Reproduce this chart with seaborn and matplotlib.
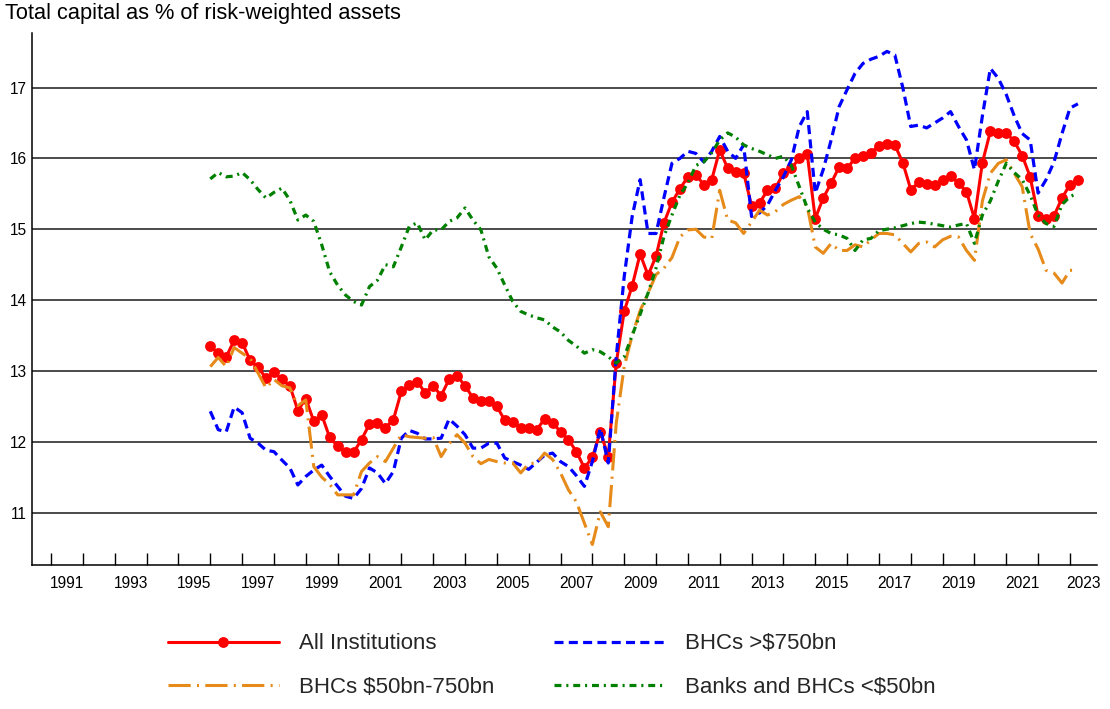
import numpy as np
import pandas as pd
import matplotlib
matplotlib.use("Agg")
import matplotlib.pyplot as plt
import seaborn as sns

# ---------------- data (quarterly, 1995Q4 - 2023Q1) ----------------
quarters = pd.period_range("1995Q4", "2023Q1", freq="Q")

all_institutions = [
    13.35, 13.25, 13.20, 13.43, 13.40, 13.15, 13.05, 12.90, 12.98, 12.88,
    12.79, 12.44, 12.61, 12.29, 12.38, 12.06, 11.94, 11.85, 11.85, 12.03,
    12.25, 12.27, 12.20, 12.31, 12.71, 12.80, 12.85, 12.69, 12.79, 12.65,
    12.88, 12.93, 12.79, 12.62, 12.57, 12.57, 12.50, 12.30, 12.28, 12.19,
    12.19, 12.17, 12.32, 12.27, 12.14, 12.03, 11.86, 11.63, 11.78, 12.14,
    11.79, 13.11,
    13.84, 14.20, 14.65, 14.35, 14.62, 15.09, 15.38, 15.57, 15.74, 15.77,
    15.63, 15.70, 16.12, 15.86, 15.81, 15.80, 15.33, 15.37, 15.55, 15.58,
    15.79, 15.86, 16.00, 16.06, 15.15, 15.44, 15.65, 15.88, 15.86, 16.00,
    16.03, 16.08, 16.18, 16.21, 16.19, 15.94, 15.56, 15.66, 15.64, 15.63,
    15.70, 15.75, 15.65, 15.53, 15.15, 15.94, 16.38, 16.36, 16.36, 16.24,
    16.04, 15.74, 15.19, 15.14, 15.19, 15.44, 15.63, 15.69,
]

bhc_large = [
    12.43, 12.17, 12.14, 12.49, 12.41, 12.05, 11.98, 11.88, 11.86, 11.74,
    11.63, 11.39, 11.51, 11.60, 11.67, 11.51, 11.37, 11.23, 11.20, 11.34,
    11.63, 11.56, 11.41, 11.58, 12.05, 12.16, 12.12, 12.04, 12.04, 12.05,
    12.32, 12.22, 12.10, 11.91, 11.91, 11.98, 11.98, 11.77, 11.72, 11.67,
    11.61, 11.71, 11.81, 11.84, 11.72, 11.65, 11.52, 11.37, 11.72, 12.19,
    11.70, 13.20,
    14.33, 15.18, 15.70, 14.94, 14.94, 15.45, 15.93, 16.00, 16.10, 16.07,
    15.95, 16.10, 16.31, 16.10, 16.00, 16.19, 15.18, 15.23, 15.34, 15.55,
    15.74, 15.98, 16.45, 16.66, 15.51, 15.84, 16.26, 16.73, 16.97, 17.20,
    17.34, 17.40, 17.44, 17.51, 17.46, 17.00, 16.45, 16.47, 16.43, 16.50,
    16.57, 16.66, 16.45, 16.26, 15.84, 16.60, 17.27, 17.13, 16.90, 16.60,
    16.35, 16.26, 15.51, 15.70, 15.95, 16.35, 16.71, 16.77,
]

bhc_mid = [
    13.06, 13.19, 13.06, 13.33, 13.25, 13.18, 12.97, 12.76, 12.88, 12.79,
    12.76, 12.51, 12.59, 11.65, 11.50, 11.40, 11.25, 11.25, 11.25, 11.58,
    11.70, 11.79, 11.72, 11.91, 12.10, 12.07, 12.06, 12.05, 12.06, 11.79,
    11.97, 12.10, 11.98, 11.79, 11.69, 11.75, 11.72, 11.70, 11.70, 11.56,
    11.69, 11.70, 11.84, 11.75, 11.56, 11.32, 11.15, 10.85, 10.55, 11.01,
    10.80, 12.26,
    13.06, 13.50, 13.85, 14.10, 14.36, 14.45, 14.60, 14.89, 14.99, 15.00,
    14.89, 14.87, 15.55, 15.13, 15.09, 14.94, 15.10, 15.27, 15.20, 15.25,
    15.35, 15.41, 15.46, 15.32, 14.75, 14.66, 14.80, 14.70, 14.70, 14.78,
    14.75, 14.85, 14.94, 14.94, 14.92, 14.80, 14.68, 14.80, 14.82, 14.75,
    14.85, 14.90, 14.89, 14.70, 14.56, 15.40, 15.79, 15.93, 15.98, 15.79,
    15.60, 14.94, 14.72, 14.42, 14.38, 14.24, 14.42, 14.42,
]

banks_small = [
    15.71, 15.80, 15.74, 15.75, 15.80, 15.70, 15.56, 15.44, 15.52, 15.58,
    15.41, 15.13, 15.20, 15.11, 14.78, 14.40, 14.21, 14.07, 13.98, 13.93,
    14.19, 14.28, 14.50, 14.47, 14.75, 15.04, 15.09, 14.85, 14.99, 14.99,
    15.11, 15.16, 15.30, 15.13, 14.99, 14.61, 14.45, 14.21, 13.98, 13.84,
    13.79, 13.75, 13.72, 13.62, 13.55, 13.43, 13.35, 13.25, 13.30, 13.27,
    13.20, 13.11,
    13.20, 13.50, 13.80, 14.10, 14.45, 14.90, 15.20, 15.48, 15.65, 15.90,
    15.95, 16.08, 16.26, 16.36, 16.30, 16.19, 16.14, 16.10, 16.05, 16.00,
    16.03, 15.90, 15.60, 15.30, 15.10, 15.00, 14.94, 14.92, 14.87, 14.70,
    14.85, 14.87, 14.98, 15.00, 15.02, 15.05, 15.08, 15.10, 15.09, 15.07,
    15.05, 15.03, 15.06, 15.08, 14.80, 15.20, 15.40, 15.68, 15.93, 15.80,
    15.70, 15.48, 15.20, 15.08, 15.04, 15.35, 15.46, 15.51,
]

series_names = ["All Institutions", "BHCs >$750bn", "BHCs $50bn-750bn",
                "Banks and BHCs <$50bn"]
year_labels = [str(y) for y in range(1991, 2024, 2)]
y_ticks = [11, 12, 13, 14, 15, 16, 17]
title = "Total capital as % of risk-weighted assets"

# quarter-end position in decimal years
xpos = np.array([q.year + q.quarter / 4.0 for q in quarters])
df = pd.DataFrame({
    "x": xpos,
    series_names[0]: all_institutions,
    series_names[1]: bhc_large,
    series_names[2]: bhc_mid,
    series_names[3]: banks_small,
})

# ---------------- style ----------------
sns.set_theme(style="white")
plt.rcParams["font.family"] = ["Liberation Sans", "DejaVu Sans"]
plt.rcParams["lines.scale_dashes"] = False

fig = plt.figure(figsize=(11.10, 7.09), dpi=100)
ax = fig.add_axes([32.3 / 1110, 1 - 565 / 709, (1096.7 - 32.3) / 1110, (565 - 33) / 709])

styles = {
    series_names[0]: dict(color="#FF0000", linewidth=2.2, linestyle="-",
                          marker="o", markersize=7.8, markeredgewidth=0),
    series_names[1]: dict(color="#0000FF", linewidth=2.3,
                          linestyle=(0, (6.5, 3.8))),
    series_names[2]: dict(color="#E68A1A", linewidth=2.2,
                          linestyle=(0, (16, 4.5, 1.5, 4.5))),
    series_names[3]: dict(color="#008000", linewidth=2.3,
                          linestyle=(0, (5, 3.5, 1.5, 3.5))),
}

handles = {}
for i, name in enumerate(series_names):
    sns.lineplot(data=df, x="x", y=name, ax=ax, label=name, zorder=3 + i,
                 **styles[name])
    handles[name] = ax.get_lines()[-1]

if ax.get_legend():
    ax.get_legend().remove()

# ---------------- axes ----------------
ax.set_xlim(1990.41, 2023.84)
ax.set_ylim(10.26, 17.77)
ax.set_xlabel("")
ax.set_ylabel("")

for s in ["top", "right"]:
    ax.spines[s].set_visible(False)
for s in ["left", "bottom"]:
    ax.spines[s].set_color("black")
    ax.spines[s].set_linewidth(1.1)

ax.set_yticks(y_ticks)
ax.set_yticklabels([str(v) for v in y_ticks])
ax.tick_params(axis="y", which="major", length=0, pad=4, labelsize=11.2,
               labelcolor="black")
for v in y_ticks:
    ax.axhline(v, color="#1a1a1a", linewidth=1.1, zorder=1)

# major ticks at year boundaries (no labels), labels centred in each year
ax.set_xticks(list(range(1991, 2024)))
ax.set_xticklabels([])
ax.tick_params(axis="x", which="major", direction="in", length=8.5,
               width=1.0, color="black", bottom=True)
label_pos = [int(y) + 0.5 for y in year_labels[:-1]] + [(2023 + 2023.84) / 2]
ax.set_xticks(label_pos, minor=True)
ax.set_xticklabels(year_labels, minor=True)
ax.tick_params(axis="x", which="minor", length=0, pad=8, labelsize=11.2,
               labelcolor="black")
ax.grid(False)

# ---------------- title & legend ----------------
fig.text(5 / 1110, 1 - 14 / 709, title, ha="left", va="center",
         fontsize=15.7, color="black")

order = [series_names[0], series_names[2], series_names[1], series_names[3]]
leg = fig.legend([handles[n] for n in order], order, ncol=2,
                 loc="center", bbox_to_anchor=(552 / 1110, 1 - 665.5 / 709),
                 frameon=False, fontsize=16, handlelength=5.0,
                 handletextpad=0.9, columnspacing=2.7, labelspacing=1.0)

fig.savefig("out.png", dpi=100)
